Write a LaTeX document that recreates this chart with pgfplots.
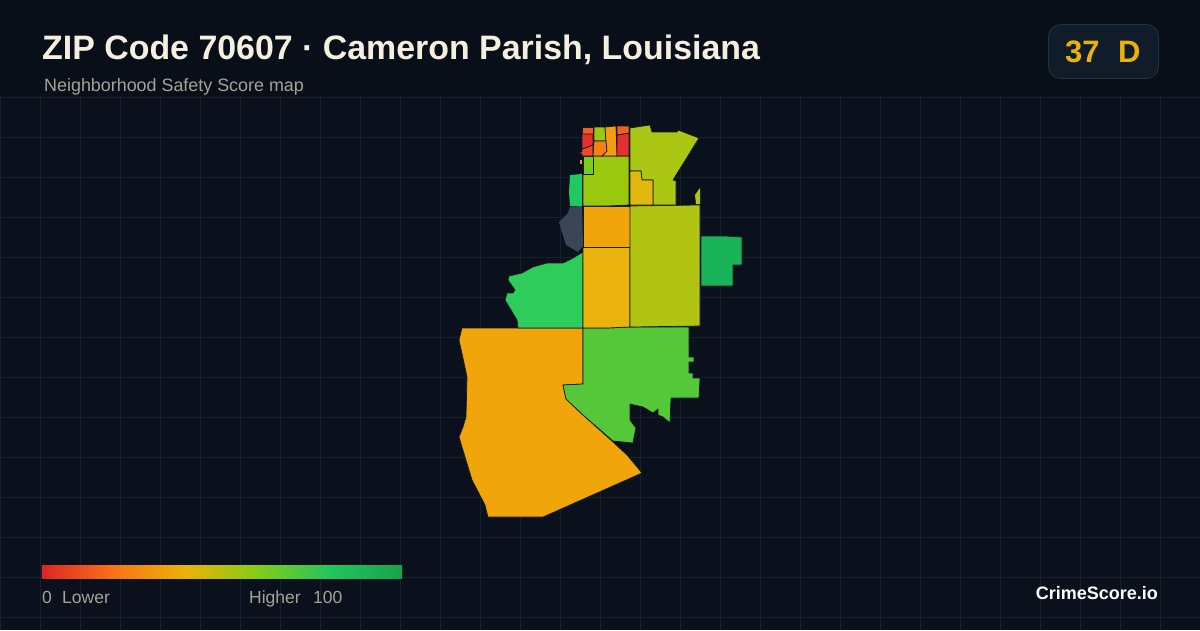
\documentclass[border=0pt]{standalone}
\usepackage{pgfplots}
\pgfplotsset{compat=1.18}
\usepackage{fontspec}
\setmainfont{Liberation Sans}
\definecolor{bg}{HTML}{0A111C}
\definecolor{hd}{HTML}{080F19}
\definecolor{gridc}{HTML}{13222D}
\definecolor{edge}{HTML}{14181C}
\definecolor{txt}{HTML}{F5EFE0}
\definecolor{mut}{HTML}{A8A295}
\definecolor{badgefill}{HTML}{111C2A}
\definecolor{badgeedge}{HTML}{263240}
\definecolor{cA}{HTML}{DC2626}
\definecolor{cB}{HTML}{F97316}
\definecolor{cC}{HTML}{EAB308}
\definecolor{cD}{HTML}{84CC16}
\definecolor{cE}{HTML}{22C55E}
\definecolor{cF}{HTML}{16A34A}
\definecolor{amber}{HTML}{F0A50A}
\definecolor{amberb}{HTML}{EAB20D}
\definecolor{olive}{HTML}{B2C412}
\definecolor{olivec}{HTML}{ACC713}
\definecolor{lime}{HTML}{9AC80F}
\definecolor{limeb}{HTML}{7ACC1C}
\definecolor{grn}{HTML}{55C83A}
\definecolor{grnb}{HTML}{2ECC5A}
\definecolor{grnc}{HTML}{1BB35A}
\definecolor{grnd}{HTML}{20C860}
\definecolor{slate}{HTML}{3A4658}
\definecolor{yel}{HTML}{E0B810}
\definecolor{redA}{HTML}{E53030}
\definecolor{redB}{HTML}{EE4A25}
\definecolor{orA}{HTML}{F06020}
\definecolor{orB}{HTML}{F57F17}
\definecolor{orC}{HTML}{F39C12}
\pgfplotsset{region/.style={fill=#1,draw=edge,line width=0.7pt,line join=round}}
\begin{document}
\begin{tikzpicture}
\begin{axis}[
  scale only axis,width=1200pt,height=630pt,
  xmin=0,xmax=1200,ymin=0,ymax=630,y dir=reverse,
  axis line style={draw=none},
  xtick={0,40,...,1200},ytick={17,57,...,630},
  xticklabels={},yticklabels={},
  tick label style={overlay},
  major tick length=0pt,
  grid=major,grid style={gridc,line width=0.8pt},
  axis background/.style={fill=bg},
  clip=true]
% header band
\addplot[fill=hd,draw=none] coordinates {(0,0)(1200,0)(1200,96)(0,96)} --cycle;
% regions
\addplot[region=amber] coordinates {(462,328)(470,328)(583,328)(583,384)(563,385)(566,399)(583,415)(613,442)(627,455)(642,473)(543,517)(488,517)(485,505)(472,480)(459,437)(463,427)(466,417)(467,377)(463,358)(459,340)} --cycle;
\addplot[region=grn] coordinates {(583,328)(607,328)(630,327)(689,327)(689,357)(694,357)(694,362)(689,362)(689,373)(693,373)(693,378)(700,378)(699,398)(671,398)(670,423)(663,417)(658,415)(658,409)(653,413)(643,407)(630,404)(630,420)(636,428)(634,437)(633,443)(623,442)(613,441)(583,415)(566,399)(563,385)(583,384)} --cycle;
\addplot[region=grnb] coordinates {(583,252)(583,328)(518,328)(517,320)(505,300)(507,293)(513,293)(515,290)(508,280)(509,276)(522,273)(533,267)(547,263)(563,263)(573,258)} --cycle;
\addplot[region=amberb] coordinates {(583,247)(630,247)(630,327)(607,328)(583,328)} --cycle;
\addplot[region=amber] coordinates {(583,206)(630,206)(630,247)(583,247)} --cycle;
\addplot[region=olive] coordinates {(630,206)(700,205)(700,326)(630,327)} --cycle;
\addplot[region=grnc] coordinates {(701,236)(725,236)(742,237)(742,265)(733,265)(733,286)(701,286)} --cycle;
\addplot[fill=slate,draw=none] coordinates {(582,206)(570,207)(568,213)(559,222)(562,232)(566,245)(578,252)(583,246)} --cycle;
\addplot[fill=grnd,draw=none] coordinates {(570,175)(582,174)(582,206)(570,206)(569,192)} --cycle;
\addplot[region=lime] coordinates {(583,156)(629,156)(629,205)(607,206)(583,206)(583,174)(593,174)(593,156)} --cycle;
\addplot[region=limeb] coordinates {(583,156)(593,156)(593,174)(583,174)} --cycle;
\addplot[region=olivec] coordinates {(630,128)(650,125)(652,132)(677,132)(678,130)(699,138)(673,180)(676,181)(676,205)(653,205)(653,180)(642,180)(641,171)(630,171)} --cycle;
\addplot[region=yel] coordinates {(630,171)(641,171)(642,180)(653,180)(653,205)(630,205)} --cycle;
\addplot[fill=olive,draw=none] coordinates {(695,195)(700,188)(700,204)(696,204)} --cycle;
\addplot[region=orA] coordinates {(582,127)(593,127)(593,134)(582,134)} --cycle;
\addplot[region=redA] coordinates {(582,134)(593,134)(593,145)(588,147)(582,149)} --cycle;
\addplot[region=redB] coordinates {(578,153)(582,152)(582,149)(588,147)(593,145)(593,156)(582,156)(582,154)} --cycle;
\addplot[region=lime] coordinates {(594,127)(605,127)(606,141)(594,141)} --cycle;
\addplot[region=orB] coordinates {(594,141)(606,141)(607,151)(602,156)(593,156)} --cycle;
\addplot[region=orC] coordinates {(605,127)(616,126)(617,156)(602,156)(607,151)(606,141)} --cycle;
\addplot[region=redA] coordinates {(617,135)(629,133)(629,156)(617,156)} --cycle;
\addplot[region=orA] coordinates {(617,126)(629,126)(629,133)(617,135)} --cycle;
\addplot[fill=orC,draw=none] coordinates {(580,160)(582,160)(582,164)(580,164)} --cycle;
% legend bar
\shade[left color=cA,right color=cB,shading angle=90] (axis cs:42,565) rectangle (axis cs:114.2,578);
\shade[left color=cB,right color=cC,shading angle=90] (axis cs:114,565) rectangle (axis cs:186.2,578);
\shade[left color=cC,right color=cD,shading angle=90] (axis cs:186,565) rectangle (axis cs:258.2,578);
\shade[left color=cD,right color=cE,shading angle=90] (axis cs:258,565) rectangle (axis cs:330.2,578);
\shade[left color=cE,right color=cF,shading angle=90] (axis cs:330,565) rectangle (axis cs:402,578);
% badge
\draw[fill=badgefill,draw=badgeedge,line width=0.8pt,rounded corners=12pt] (axis cs:1048.5,24.5) rectangle (axis cs:1158.5,78.5);
% texts
\node[anchor=base west,inner sep=0pt,text=txt,font=\fontsize{33.9}{33.9}\selectfont\bfseries] at (axis cs:42,59) {ZIP Code 70607 · Cameron Parish, Louisiana};
\node[anchor=base west,inner sep=0pt,text=mut,font=\fontsize{17.9}{17.9}\selectfont] at (axis cs:44,91) {Neighborhood Safety Score map};
\node[anchor=base west,inner sep=0pt,text=cC,font=\fontsize{31}{31}\selectfont\bfseries] at (axis cs:1065,62) {37};
\node[anchor=base west,inner sep=0pt,text=cC,font=\fontsize{31}{31}\selectfont\bfseries] at (axis cs:1118,62) {D};
\node[anchor=base west,inner sep=0pt,text=mut,font=\fontsize{17.5}{17.5}\selectfont] at (axis cs:42,603) {0};
\node[anchor=base west,inner sep=0pt,text=mut,font=\fontsize{17.5}{17.5}\selectfont] at (axis cs:62,603) {Lower};
\node[anchor=base west,inner sep=0pt,text=mut,font=\fontsize{17.5}{17.5}\selectfont] at (axis cs:249,603) {Higher};
\node[anchor=base west,inner sep=0pt,text=mut,font=\fontsize{17.5}{17.5}\selectfont] at (axis cs:313,603) {100};
\node[anchor=base east,inner sep=0pt,text=white,font=\fontsize{18}{18}\selectfont\bfseries] at (axis cs:1158,599) {CrimeScore.io};
\end{axis}
\pgfresetboundingbox
\path (0,0) rectangle (1200pt,630pt);
\end{tikzpicture}
\end{document}
